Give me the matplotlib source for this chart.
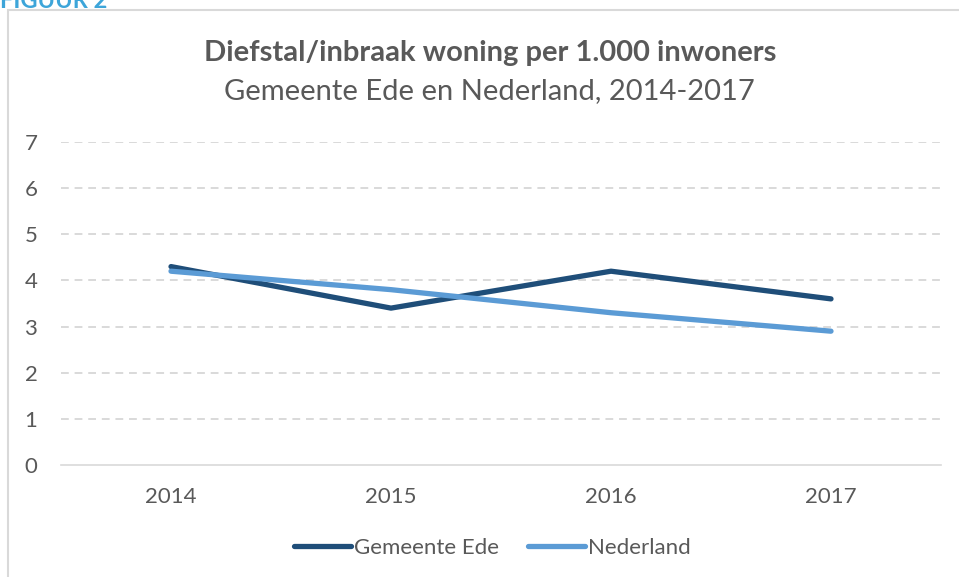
import matplotlib
matplotlib.use("Agg")
import matplotlib.pyplot as plt
from matplotlib.patches import Rectangle

# data
jaren = ["2014", "2015", "2016", "2017"]
ede = [4.3, 3.4, 4.2, 3.6]
nederland = [4.2, 3.8, 3.3, 2.9]
y_ticks = [0, 1, 2, 3, 4, 5, 6, 7]

plt.rcParams['font.family'] = ['Lato', 'DejaVu Sans']
grijs = "#595959"

W, H = 959, 577
fig = plt.figure(figsize=(W / 100, H / 100), dpi=100)

# kader van de grafiek
fig.patches.append(Rectangle((8 / W, -0.1), 1.1, 1 - 10 / H + 0.1, transform=fig.transFigure,
                             fill=False, edgecolor="#D9D9D9", linewidth=1.5))
# kop staat half buiten beeld, zoals in het origineel
fig.text(0.0, 1.0, "FIGUUR 2", color="#3DA5D9", fontsize=17, fontweight="bold",
         ha="left", va="center")

ax = fig.add_axes([61 / W, 1 - 465 / H, 880 / W, (465 - 142) / H])
x = range(len(jaren))
ax.plot(x, ede, color="#1F4E79", linewidth=3.8, solid_capstyle="round", label="Gemeente Ede")
ax.plot(x, nederland, color="#5B9BD5", linewidth=3.8, solid_capstyle="round", label="Nederland")

ax.set_xlim(-0.5, 3.5)
ax.set_ylim(0, 7)
ax.set_xticks(list(x))
ax.set_xticklabels(jaren)
ax.set_yticks(y_ticks)
ax.tick_params(length=0, labelsize=16, colors=grijs)
ax.tick_params(axis="x", pad=16)
ax.tick_params(axis="y", pad=17)
for v in y_ticks[1:]:
    ax.axhline(v, color="#D9D9D9", linewidth=1.4, dashes=(4, 3), zorder=0)
for s in ["top", "right", "left"]:
    ax.spines[s].set_visible(False)
ax.spines["bottom"].set_color("#D9D9D9")
ax.spines["bottom"].set_linewidth(1.2)

fig.text(490 / W, 1 - 53 / H, "Diefstal/inbraak woning per 1.000 inwoners", ha="center", va="center",
         fontsize=21, fontweight="bold", color=grijs)
fig.text(489 / W, 1 - 91 / H, "Gemeente Ede en Nederland, 2014-2017", ha="center", va="center",
         fontsize=21, color=grijs)

fig.legend(loc="center", bbox_to_anchor=(492 / W, 1 - 548 / H), ncol=2, frameon=False,
           fontsize=16, labelcolor=grijs, handlelength=2.6, handletextpad=0.1, columnspacing=1.3)

fig.savefig("out.png", dpi=100)
